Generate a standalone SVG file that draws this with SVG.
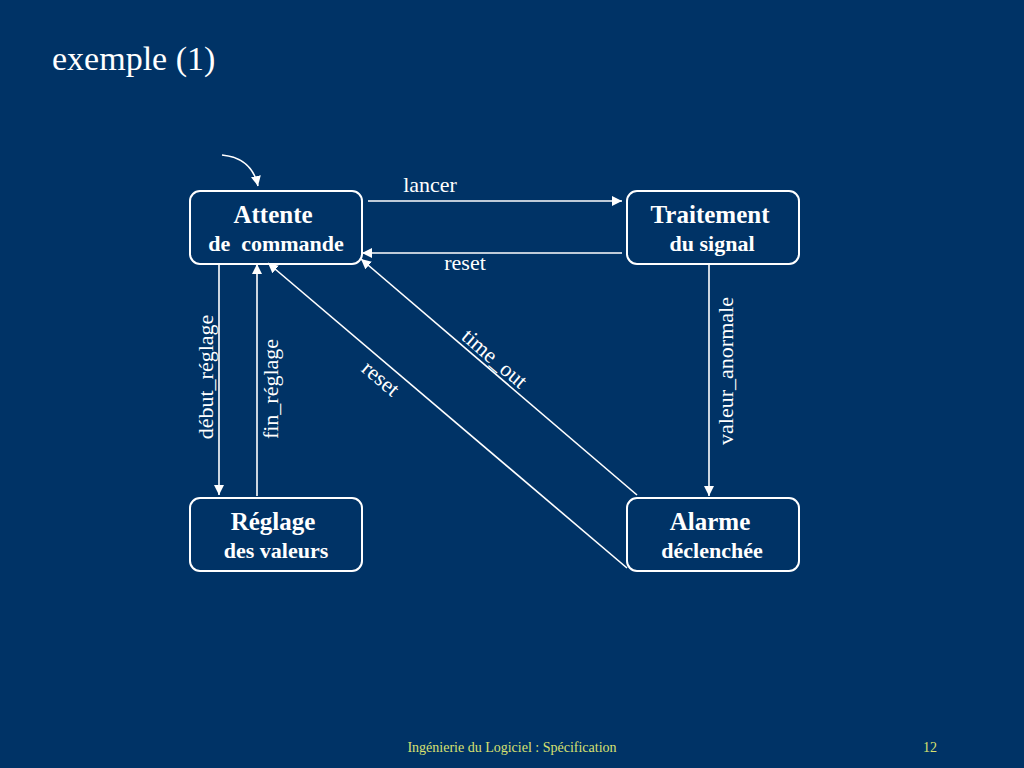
<svg xmlns="http://www.w3.org/2000/svg" width="1024" height="768" viewBox="0 0 1024 768">
<defs>
<marker id="ah" viewBox="0 0 10 10" refX="10" refY="5" markerWidth="10" markerHeight="10" markerUnits="userSpaceOnUse" orient="auto">
<path d="M0,0 L10,5 L0,10 z" fill="#ffffff"/>
</marker>
<style>
.box{fill:none;stroke:#ffffff;stroke-width:2}
.t1{font-family:"Liberation Serif",serif;font-weight:bold;font-size:25px;fill:#ffffff;text-anchor:middle}
.t2{font-family:"Liberation Serif",serif;font-weight:bold;font-size:22px;fill:#ffffff;text-anchor:middle}
.lbl{font-family:"Liberation Serif",serif;font-size:22px;fill:#ffffff;text-anchor:middle}
.ln{stroke:#ffffff;stroke-width:1.6;fill:none;marker-end:url(#ah)}
.ft{font-family:"Liberation Serif",serif;font-size:14px;fill:#d8e070}
</style>
</defs>
<rect width="1024" height="768" fill="#003366"/>
<text x="52" y="70" font-family="Liberation Serif,serif" font-size="34" fill="#ffffff">exemple (1)</text>

<g id="attente"><rect class="box" x="190" y="191" width="172" height="73" rx="10"/><text class="t1" x="273" y="223">Attente</text><text class="t2" x="276" y="251" xml:space="preserve">de  commande</text></g>
<g id="traitement"><rect class="box" x="627" y="191" width="172" height="73" rx="10"/><text class="t1" x="710" y="223">Traitement</text><text class="t2" x="712" y="251">du signal</text></g>
<g id="reglage"><rect class="box" x="190" y="498" width="172" height="73" rx="10"/><text class="t1" x="273" y="530">Réglage</text><text class="t2" x="276" y="558">des valeurs</text></g>
<g id="alarme"><rect class="box" x="627" y="498" width="172" height="73" rx="10"/><text class="t1" x="710" y="530">Alarme</text><text class="t2" x="712" y="558">déclenchée</text></g>

<g id="connectors">
<path class="ln" d="M222,155 Q252,158 258,186"/>
<line class="ln" x1="368" y1="201" x2="622" y2="201"/>
<line class="ln" x1="622" y1="253" x2="362" y2="253"/>
<line class="ln" x1="219" y1="264" x2="219" y2="495"/>
<line class="ln" x1="257" y1="496" x2="257" y2="264"/>
<line class="ln" x1="709" y1="264" x2="709" y2="496"/>
<line class="ln" x1="637" y1="495" x2="361" y2="259"/>
<line class="ln" x1="627" y1="568" x2="268" y2="263"/>
<text class="lbl" x="430" y="192">lancer</text>
<text class="lbl" x="465" y="270">reset</text>
<text class="lbl" transform="translate(213,377) rotate(-90)">début_réglage</text>
<text class="lbl" transform="translate(278,389) rotate(-90)">fin_réglage</text>
<text class="lbl" transform="translate(733,371) rotate(-90)">valeur_anormale</text>
<text class="lbl" transform="translate(490,364) rotate(40.5)">time_out</text>
<text class="lbl" transform="translate(376,384) rotate(40.3)">reset</text>
</g>
<text class="ft" x="512" y="752" text-anchor="middle">Ingénierie du Logiciel : Spécification</text>
<text class="ft" x="930" y="752" text-anchor="middle">12</text>
</svg>
